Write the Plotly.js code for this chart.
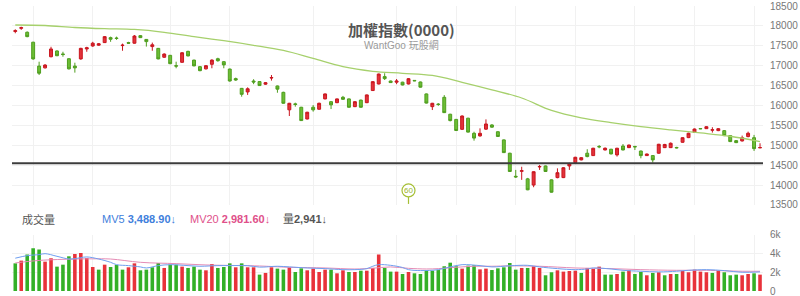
<!DOCTYPE html>
<html><head><meta charset="utf-8">
<script src="https://cdn.plot.ly/plotly-3.0.1.min.js"></script>
<style>html,body{margin:0;padding:0;background:#fff}#chart{width:800px;height:296px}</style>
</head><body><div id="chart"></div><script>
// ---- price candles (daily) ----
const openP=[17860,17940,17840,17590,16990,16945,17225,17370,17295,17175,16990,17170,17420,17495,17515,17580,17705,17695,17505,17580,
17565,17755,17660,17480,17435,17212,17260,17000,17085,17360,17140,16975,16920,17035,17175,17100,16915,16675,16430,16340,
16615,16600,16535,16690,16490,16330,15890,16040,15955,15660,15955,15905,16165,16095,16070,16205,16165,15970,16135,16070,
16375,16540,16725,16615,16585,16585,16540,16630,16590,16290,15970,16035,16205,15780,15650,15400,15680,15300,15235,15405,
15510,15340,15135,14800,14220,14345,14155,14000,14455,14480,14130,14187,14187,14480,14565,14632,14800,14740,14970,14882,
14900,14758,14980,14940,14970,14855,14740,14740,14800,14940,14940,14945,15075,15192,15326,15420,15417,15380,15368,15367,
15242,15116,15108,15218,15190,14935];
const highP=[17915,17980,17860,17600,17100,17040,17475,17385,17350,17185,17075,17450,17475,17600,17570,17745,17730,17730,17555,17600,
17770,17770,17670,17580,17445,17310,17270,17100,17340,17375,17150,16990,17015,17160,17200,17115,16925,16700,16440,16455,
16660,16615,16590,16765,16500,16345,16065,16070,15965,15840,16010,16070,16300,16105,16175,16240,16175,16110,16145,16275,
16610,16800,16810,16625,16665,16595,16690,16640,16600,16300,16065,16060,16260,15790,15660,15750,15690,15340,15425,15650,
15530,15350,15145,14810,14380,14460,14180,14345,14505,14490,14140,14420,14450,14560,14710,14700,14900,14935,15005,14945,
14910,14935,15030,15015,14985,14865,14790,14750,15035,15035,15070,14960,15200,15315,15420,15430,15480,15453,15430,15380,
15255,15130,15242,15342,15260,15050];
const lowP=[17815,17900,17715,17150,16765,16930,17210,17240,17225,16905,16825,17150,17350,17475,17500,17570,17600,17650,17375,17545,
17555,17695,17480,17375,17160,17200,17040,16935,17075,17235,16985,16860,16905,16935,17100,16935,16600,16620,16220,16265,
16535,16490,16520,16625,16320,16045,15735,15970,15610,15650,15845,15895,16155,15910,16060,16140,15945,15960,15945,16060,
16365,16530,16640,16565,16535,16505,16530,16610,16450,16050,15885,15990,15810,15600,15360,15390,15320,15115,15215,15385,
15440,15210,14805,14330,14180,14130,13870,13945,14380,14330,13810,14170,14175,14380,14555,14620,14698,14730,14925,14870,
14770,14715,14870,14930,14880,14672,14730,14563,14790,14930,14930,14920,15065,15180,15315,15405,15410,15318,15355,15230,
15080,15055,15095,15200,14857,14925];
const closeP=[17880,17955,17730,17170,16810,17015,17420,17250,17280,16920,16945,17435,17450,17565,17550,17730,17665,17685,17515,17565,
17745,17705,17605,17525,17170,17292,17050,16990,17325,17245,16995,16875,17000,17140,17125,17020,16615,16640,16280,16420,
16590,16500,16572,16700,16410,16055,16055,16025,15620,15830,15890,16055,16290,16015,16165,16155,15955,16095,15955,16265,
16598,16790,16675,16575,16615,16515,16673,16620,16460,16060,16055,16025,15820,15620,15370,15735,15330,15180,15300,15535,
15455,15220,14815,14340,14205,14360,13880,14335,14465,14340,13820,14310,14435,14530,14698,14688,14715,14925,14960,14925,
14782,14925,14882,15005,14960,14740,14780,14632,15025,15020,15050,14935,15190,15302,15408,15414,15466,15388,15416,15242,
15092,15066,15190,15302,14915,14942];
// 60-day moving average of price, read at every 5th session
const maIdx=[0,5,10,15,20,25,30,35,40,45,50,55,60,65,70,75,80,85,90,95,100,105,110,115,120,125];
const maVal=[18022,18010,17960,17930,17910,17839,17729,17628,17513,17382,17181,16975,16859,16809,16754,16583,16394,16188,15874,15686,15568,15467,15384,15309,15226,15090];
const supportLevel=14550;
const markIndex=66, markLabel='60';
// ---- volume ----
const vol=[2941,3230,3870,4540,4400,3120,3480,2590,2800,3690,3940,4050,3510,2550,2270,2800,2550,2770,2270,2520,
2940,2200,2270,2520,2980,2450,2800,2800,2590,2450,2590,2270,2200,2870,2450,2550,2940,2520,2940,2520,
2520,1740,1920,2520,2380,2270,2520,2020,2410,2200,2380,2020,2270,2270,1880,2200,2020,2020,2160,2160,
2450,3870,2450,2060,2060,1810,2020,1880,1810,2230,2160,2230,2630,3010,2630,2380,2700,2730,2300,2380,
2230,2410,2520,2980,2270,2450,2450,2630,2450,1670,1990,2200,2060,2130,2160,1920,2450,2340,2590,1740,
1740,1810,2060,2200,1810,2020,1670,1920,1990,1670,1810,1810,2130,1990,2270,2060,1990,1920,2130,1990,
1670,1740,1670,1810,1880,1740];
// 1 = up day (red), 0 = down day (green)
const volUp=[0,1,0,0,0,1,1,0,0,0,1,1,1,1,0,1,0,0,0,1,
1,0,0,0,0,1,0,0,1,0,0,0,1,1,0,0,0,1,0,1,
1,0,1,1,0,0,1,0,0,1,1,1,1,0,1,1,0,1,0,1,
1,1,0,0,1,0,1,0,0,0,0,0,0,0,0,1,0,0,1,1,
0,0,0,0,0,1,0,1,1,0,0,1,1,1,1,0,1,1,1,0,
0,1,0,1,0,0,1,0,1,0,1,0,1,1,1,1,1,0,1,0,
0,0,1,1,0,1];
const mv5Idx=[0,2,4,5,7,9,10,12,14,16,17,19,21,22,24,26,29,31,34,36,39,41,44,46,49,52,55,57,59,60,61,63,65,66,68,71,73,75,78,80,83,86,88,91,94,96,97,100,102,105,108,111,113,116,119,122,125];
const mv5Val=[3488.9,3760,3870,3970,3690,3400,3440,3620,3400,3050,2800,2700,2560,2450,2700,2800,2700,2630,2700,2700,2700,2540,2630,2560,2450,2380,2270,2270,2380,2630,2800,2730,2500,2270,2170,2270,2560,2800,2700,2560,2680,2730,2560,2380,2270,2340,2450,2340,2200,2100,2030,2100,2200,2270,2170,1990,2030];
const mv20Idx=[0,4,10,13,16,21,27,32,38,41,46,52,57,60,63,66,69,71,74,77,80,83,88,94,100,105,111,116,122,125];
const mv20Val=[2981.6,3250,3400,3420,3400,3050,2910,2770,2700,2660,2520,2450,2340,2420,2560,2410,2340,2380,2520,2630,2630,2670,2630,2450,2380,2270,2200,2200,2100,2100];
const gridIdx=[3,13,26,36,50,64,74,84,94,104,114,124];
const priceTicks=[13500,14000,14500,15000,15500,16000,16500,17000,17500,18000,18500];
const volTicks=[0,2000,4000,6000], volTickText=['0','2k','4k','6k'];
const titleText='加權指數(0000)', subTitle='WantGoo 玩股網';
const legVol='成交量', mv5Last='3,488.90', mv20Last='2,981.60', volLast='2,941';

const idx=openP.map((_,i)=>i);
const font="'Liberation Sans','Noto Sans CJK TC',sans-serif";
const traces=[
 {type:'candlestick',x:idx,open:openP,high:highP,low:lowP,close:closeP,xaxis:'x',yaxis:'y',
  increasing:{line:{color:'#c9161f',width:1},fillcolor:'#e3323a'},
  decreasing:{line:{color:'#4f9e1f',width:1},fillcolor:'#6cbd35'},whiskerwidth:0,hoverinfo:'skip'},
 {type:'scatter',mode:'lines',x:maIdx,y:maVal,xaxis:'x',yaxis:'y',line:{color:'#a6d06c',width:1.3,shape:'spline'},hoverinfo:'skip'},
 {type:'bar',x:idx,y:vol,xaxis:'x2',yaxis:'y2',marker:{color:volUp.map(u=>u?'#e8323a':'#33b027')},hoverinfo:'skip'},
 {type:'scatter',mode:'lines',x:mv20Idx,y:mv20Val,xaxis:'x2',yaxis:'y2',line:{color:'#e58cb5',width:1,shape:'spline'},hoverinfo:'skip'},
 {type:'scatter',mode:'lines',x:mv5Idx,y:mv5Val,xaxis:'x2',yaxis:'y2',line:{color:'#6f9ff0',width:1,shape:'spline'},hoverinfo:'skip'}
];
const xr=[-0.55,125.5];
const axX={range:xr,tickvals:gridIdx,showticklabels:false,showgrid:true,gridcolor:'#f1f1f1',zeroline:false,showline:false,ticks:'',fixedrange:true};
const ann=(x,y,text,size,color,fam,anchor)=>({xref:'paper',yref:'paper',x:x,y:y,xanchor:anchor||'center',yanchor:'middle',text:text,showarrow:false,font:{size:size,color:color,family:fam}});
const layout={
 width:800,height:296,margin:{l:12,r:37,t:6,b:5},paper_bgcolor:'#fff',plot_bgcolor:'#fff',
 showlegend:false,hovermode:false,bargap:0.4,font:{family:font},
 xaxis:Object.assign({},axX,{rangeslider:{visible:false},anchor:'y'}),
 xaxis2:Object.assign({},axX,{anchor:'y2',matches:'x'}),
 yaxis:{domain:[0.302,1],range:[13500,18500],tickvals:priceTicks,ticktext:priceTicks.map(String),side:'right',gridcolor:'#f1f1f1',zeroline:false,showline:false,ticks:'',
   tickfont:{size:10,color:'#777',family:font},ticklabelstandoff:6,ticklabeloverflow:'allow',fixedrange:true},
 yaxis2:{domain:[0,0.198],range:[0,6000],tickvals:volTicks,ticktext:volTickText,side:'right',gridcolor:'#f1f1f1',zeroline:false,showline:false,ticks:'',
   tickfont:{size:10,color:'#777',family:font},ticklabelstandoff:6,ticklabeloverflow:'allow',fixedrange:true},
 shapes:[
  {type:'line',xref:'paper',x0:0,x1:1,yref:'y',y0:supportLevel,y1:supportLevel,line:{color:'#3c3c3c',width:2}},
  {type:'line',xref:'x',yref:'y',xsizemode:'pixel',ysizemode:'pixel',xanchor:markIndex,yanchor:13500,x0:0,x1:0,y0:1,y1:8,line:{color:'#a6bf35',width:1.2}},
  {type:'circle',xref:'x',yref:'y',xsizemode:'pixel',ysizemode:'pixel',xanchor:markIndex,yanchor:13500,x0:-6.5,x1:6.5,y0:8,y1:21,line:{color:'#a6bf35',width:1.2},fillcolor:'#fff'}
 ],
 annotations:[
  {xref:'x',yref:'y',x:markIndex,y:13500,yshift:14.5,yanchor:'middle',text:markLabel,showarrow:false,font:{size:8,color:'#9bb52a',family:font}},
  ann(0.519,0.916,'<b>'+titleText+'</b>',15,'#555',"'Noto Sans CJK TC','Liberation Sans',sans-serif"),
  ann(0.519,0.862,subTitle,10,'#9a9a9a',"'Liberation Sans','Noto Sans CJK TC',sans-serif"),
  ann(0.0107,0.2526,legVol,11,'#555',"'Noto Sans CJK TC',sans-serif",'left'),
  ann(0.1172,0.2526,'MV5 <b>'+mv5Last+'</b>↓',11,'#3f80dc',font,'left'),
  ann(0.2344,0.2526,'MV20 <b>'+mv20Last+'</b>↓',11,'#e0508a',font,'left'),
  ann(0.3582,0.2526,'量<b>'+volLast+'</b>↓',11,'#555',"'Liberation Sans','Noto Sans CJK TC',sans-serif",'left')
 ]
};
Plotly.newPlot('chart',traces,layout,{staticPlot:true,displayModeBar:false});
</script></body></html>
